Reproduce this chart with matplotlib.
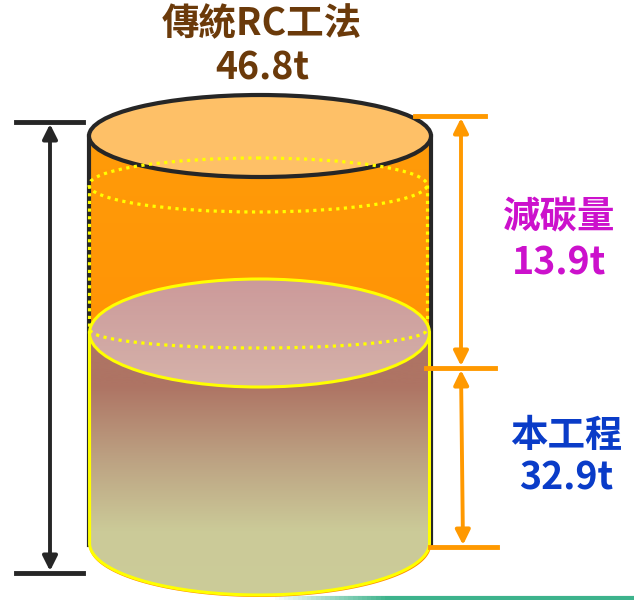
import numpy as np
import matplotlib
matplotlib.use("Agg")
import matplotlib.pyplot as plt
from matplotlib.patches import Polygon, Ellipse
from matplotlib.colors import LinearSegmentedColormap
from matplotlib.collections import LineCollection

plt.rcParams["font.family"] = ["Noto Sans CJK TC", "DejaVu Sans"]

# data
labels = ["傳統RC工法", "減碳量", "本工程"]
values = [46.8, 13.9, 32.9]
label_colors = ["#6B3A0A", "#CC11CC", "#0A3CC8"]

# layout (pixel coordinates, y downward)
W, H = 634, 600
CX = 260


def arc(cx, cy, rx, ry, t0, t1, n=200):
    t = np.linspace(t0, t1, n)
    return np.column_stack([cx + rx * np.cos(t), cy + ry * np.sin(t)])


def body(cx, rx, top_cy, top_ry, bot_cy, bot_ry):
    pts = [(cx - rx, top_cy), (cx - rx, bot_cy)]
    pts += list(arc(cx, bot_cy, rx, bot_ry, np.pi, 0))
    pts += [(cx + rx, top_cy)]
    pts += list(arc(cx, top_cy, rx, top_ry, 0, -np.pi))
    return np.array(pts)


def grad_fill(ax, patch, colors, y0, y1, z):
    ax.add_patch(patch)
    cmap = LinearSegmentedColormap.from_list("g", colors)
    g = np.linspace(0, 1, 256).reshape(-1, 1)
    im = ax.imshow(g, cmap=cmap, extent=(0, W, y1, y0), aspect="auto",
                   origin="upper", zorder=z, interpolation="bicubic")
    im.set_clip_path(patch)


fig = plt.figure(figsize=(6.34, 6.0), dpi=100)
ax = fig.add_axes([0, 0, 1, 1])

# orange (traditional) cylinder
o_rx, o_top, o_ry, o_bot = 171, 136, 41, 545
p = Polygon(body(CX, o_rx, o_top, o_ry, o_bot, 52), closed=True, facecolor="none",
            edgecolor="none", zorder=1)
grad_fill(ax, p, ["#FF9D0A", "#FF8A00"], o_top - 50, o_bot + 60, 1)
ax.plot([CX - o_rx, CX - o_rx], [o_top, o_bot], color="#262626", lw=3, zorder=2)
ax.plot([CX + o_rx, CX + o_rx], [o_top, o_bot], color="#262626", lw=3, zorder=2)
ax.add_patch(Ellipse((CX, o_top), 2 * o_rx, 2 * o_ry, facecolor="#FEC067",
                     edgecolor="#262626", lw=3, zorder=3))

# dotted level line of the reduced amount
dots = (0, (1, 1.4))
ax.add_patch(Ellipse((CX - 2, 185), 2 * 169, 2 * 27, facecolor="none",
                     edgecolor="#FFFF00", lw=2.3, linestyle=dots, zorder=4))
ax.plot([CX - 171, CX - 171], [185, 333], color="#FFFF00", lw=2.3,
        linestyle=dots, zorder=4)
ax.plot([CX + 167, CX + 167], [185, 330], color="#FFFF00", lw=2.3,
        linestyle=dots, zorder=4)

# lower (this project) cylinder
l_cx, l_rx, l_top, l_ry, l_bot = 259.5, 170, 333, 54, 543
p2 = Polygon(body(l_cx, l_rx, l_top, l_ry, l_bot, 52), closed=True, facecolor="none",
             edgecolor="none", zorder=5)
grad_fill(ax, p2, ["#AE7464", "#AE7464", "#BCA182", "#CBCA98", "#CCCC99"],
          l_top - 20, l_bot + 60, 5)
outline = np.vstack([[(l_cx - l_rx, l_top)], arc(l_cx, l_bot, l_rx, 52, np.pi, 0),
                     [(l_cx + l_rx, l_top)]])
ax.plot(outline[:, 0], outline[:, 1], color="#FFFF00", lw=2.2, zorder=6)
top_el = Ellipse((l_cx, l_top), 2 * l_rx, 2 * l_ry, facecolor="none",
                 edgecolor="none", zorder=7)
grad_fill(ax, top_el, ["#CC9A9A", "#D5B2AA"], l_top - l_ry, l_top + l_ry, 7)
ax.add_patch(Ellipse((l_cx, l_top), 2 * l_rx, 2 * l_ry, facecolor="none",
                     edgecolor="#FFFF00", lw=2.2, zorder=8))
da = arc(l_cx - 1, 330, 168, 18, np.pi, 0)
ax.plot(da[:, 0], da[:, 1], color="#FFFF00", lw=2.3, linestyle=dots, zorder=8)

# black dimension (total)
ax.plot([16, 83], [122, 122], color="#262626", lw=3.5, zorder=9)
ax.plot([16, 83], [573, 573], color="#262626", lw=3.5, zorder=9)
ax.annotate("", xy=(50, 124), xytext=(50, 571),
            arrowprops=dict(arrowstyle="<|-|>", color="#262626", lw=2.8,
                            mutation_scale=22, shrinkA=0, shrinkB=0), zorder=9)

# orange dimensions
oc = "#FF9900"
ax.plot([415, 485], [116, 116], color=oc, lw=3.5, zorder=9)
ax.plot([426, 495], [368, 368], color=oc, lw=3.5, zorder=9)
ax.plot([430, 497], [547, 547], color=oc, lw=3.5, zorder=9)
ax.annotate("", xy=(461, 118), xytext=(461, 366),
            arrowprops=dict(arrowstyle="<|-|>", color=oc, lw=2.8,
                            mutation_scale=22, shrinkA=0, shrinkB=0), zorder=9)
ax.annotate("", xy=(461, 370), xytext=(463, 545),
            arrowprops=dict(arrowstyle="<|-|>", color=oc, lw=2.8,
                            mutation_scale=22, shrinkA=0, shrinkB=0), zorder=9)

# labels
pos = [(262, 24, 68), (559, 217, 263), (566, 435, 478)]
for (x, y1, y2), lab, v, c in zip(pos, labels, values, label_colors):
    ax.text(x, y1, lab, color=c, fontsize=27, fontweight="bold",
            ha="center", va="center", zorder=10)
    ax.text(x, y2, f"{v}t", color=c, fontsize=27, fontweight="bold",
            ha="center", va="center", zorder=10)

# decorative green line at bottom
xs = np.linspace(270, 634, 80)
segs = [[(xs[i], 598), (xs[i + 1], 598)] for i in range(len(xs) - 1)]
cols = [(0.24, 0.70, 0.55, min(1, i / 25)) for i in range(len(segs))]
ax.add_collection(LineCollection(segs, colors=cols, lw=3, zorder=2))

ax.set_xlim(0, W)
ax.set_ylim(H, 0)
ax.axis("off")
fig.savefig("out.png", dpi=100)
